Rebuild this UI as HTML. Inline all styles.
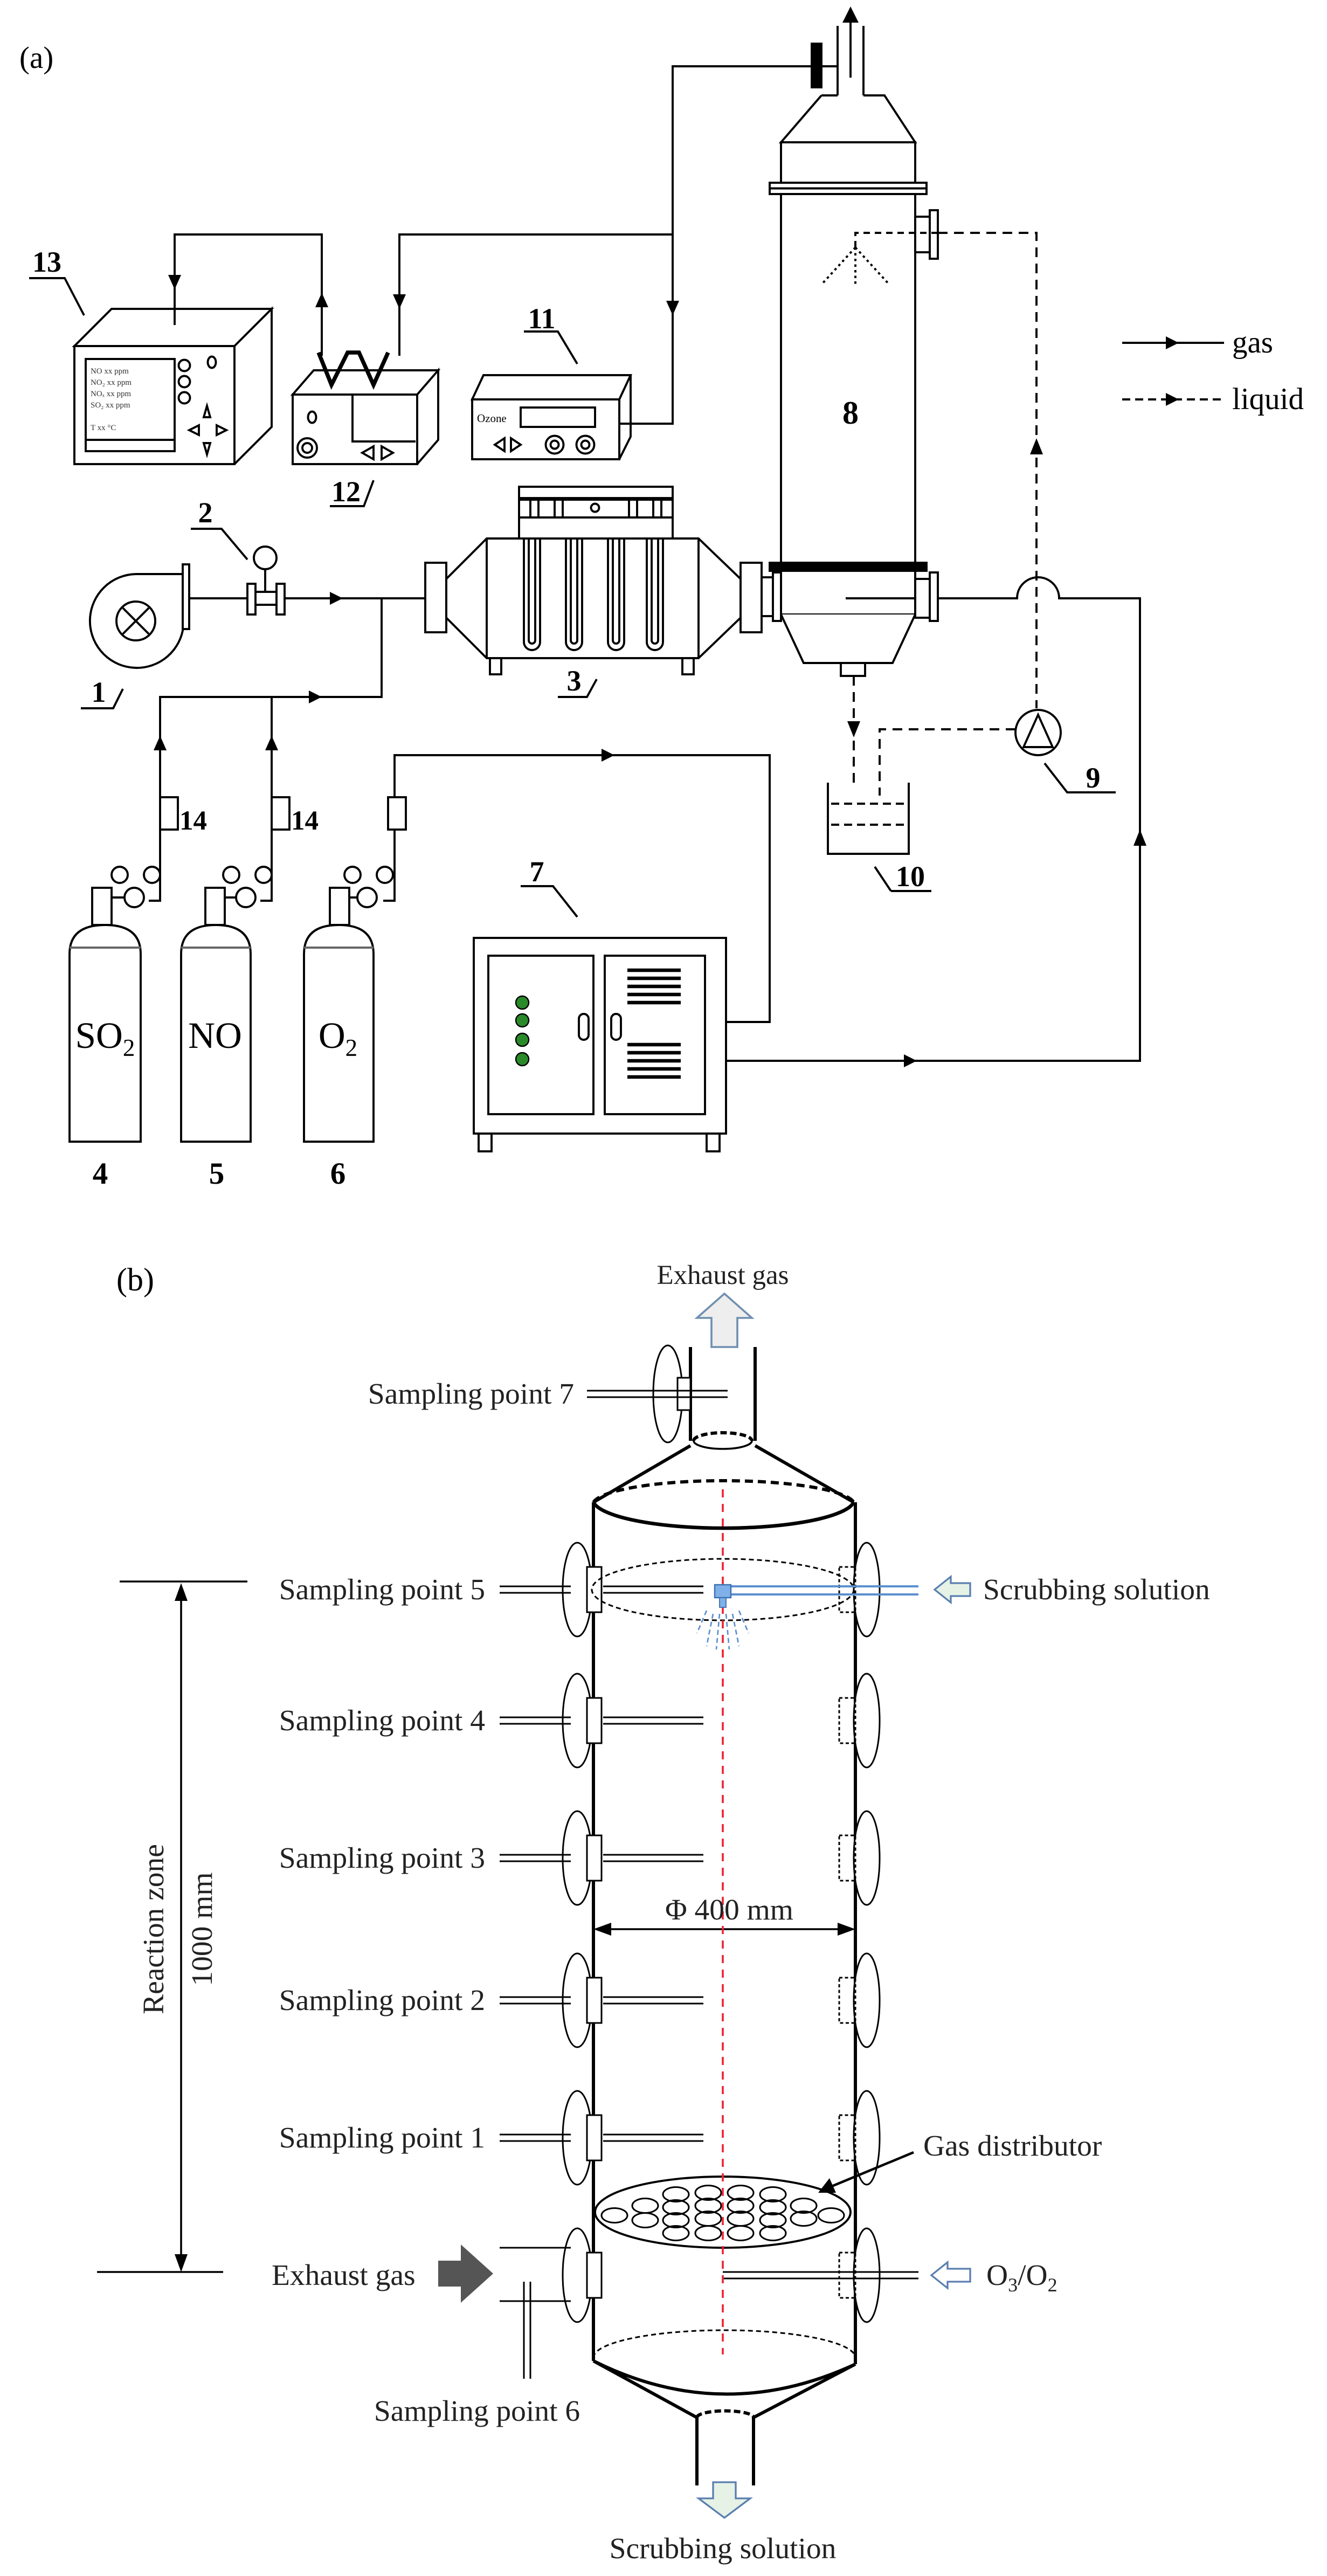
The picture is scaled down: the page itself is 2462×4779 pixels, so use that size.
<!DOCTYPE html>
<html><head><meta charset="utf-8"><style>
html,body{margin:0;padding:0;background:#fff;}
svg{display:block;}
text{font-family:"Liberation Serif",serif;}
.b{font-weight:bold;}
</style></head><body>
<svg width="2462" height="4779" viewBox="0 0 820.67 1593" xmlns="http://www.w3.org/2000/svg">
<g fill="none" stroke="#000" stroke-width="1.3" stroke-linejoin="miter">

<!-- ===== (a) ===== -->
<line x1="518" y1="16" x2="518" y2="59"/><line x1="534" y1="16" x2="534" y2="59"/>
<line x1="526" y1="8" x2="526" y2="48"/>
<rect x="502" y="27" width="6" height="27" fill="#000"/>
<line x1="508" y1="41" x2="518" y2="41"/>
<path d="M508,59 H518 M534,59 H547 L566,88 H483 L508,59" fill="#fff"/>
<rect x="483" y="88" width="83" height="25" fill="#fff"/>
<rect x="476" y="113" width="97" height="7" fill="#fff"/>
<line x1="476" y1="116.5" x2="573" y2="116.5"/>
<rect x="483" y="120" width="83" height="228" fill="#fff"/>
<rect x="476" y="348" width="97" height="5" fill="#000"/>
<rect x="483" y="353" width="83" height="27" fill="#fff"/>
<path d="M483,380 L497,410 H552 L566,380" fill="#fff"/>
<rect x="520" y="410" width="15" height="8" fill="#fff"/>
<line x1="523" y1="370" x2="568" y2="370"/>
<rect x="566" y="358" width="9" height="24" fill="#fff"/><rect x="575" y="354" width="5" height="30" fill="#fff"/>
<rect x="566" y="134" width="9" height="22" fill="#fff"/><rect x="575" y="130" width="5" height="30" fill="#fff"/>
<path d="M580,144 H529 V153" stroke-dasharray="4,3"/>
<path d="M529,153 L508,176 M529,153 L550,176 M529,153 V176" stroke-dasharray="1.5,2"/>
<path d="M580,144 H641 V438" stroke-dasharray="6,4"/>
<circle cx="642" cy="453" r="14" fill="#fff"/>
<path d="M642,442 L633,462 H651 Z"/>
<path d="M628,451 H544 V492" stroke-dasharray="6,4"/>
<path d="M528,418 V484" stroke-dasharray="6,4"/>
<path d="M512,484 V528 H562 V484"/>
<path d="M514,497 H560 M514,510 H560" stroke-dasharray="5,3"/>
<rect x="471" y="357" width="7" height="24" fill="#fff"/><rect x="478" y="354" width="5" height="30" fill="#fff"/>
<path d="M580,370 H629 A13,13 0 0 1 655,370 H705 V656 H449"/>
<rect x="263" y="348" width="13" height="43" fill="#fff"/>
<path d="M276,358 L301,333 H432 L458,358 V382 L432,407 H301 L276,382 Z" fill="#fff"/>
<line x1="301" y1="333" x2="301" y2="407"/><line x1="432" y1="333" x2="432" y2="407"/>
<rect x="458" y="348" width="13" height="43" fill="#fff"/>
<rect x="303" y="407" width="7" height="10"/><rect x="422" y="407" width="7" height="10"/>
<rect x="321" y="309" width="95" height="24" fill="#fff"/>
<rect x="321" y="301" width="95" height="7" fill="#fff"/>
<path d="M328,308 V320 M333,308 V320 M343,308 V320 M348,308 V320 M389,308 V320 M394,308 V320 M404,308 V320 M409,308 V320 M321,320 H416"/>
<circle cx="368" cy="314" r="2.5"/>
<path d="M324,333 V397 A5,5 0 0 0 334,397 V333 M327,333 V396 A2,2 0 0 0 331,396 V333"/>
<path d="M350,333 V397 A5,5 0 0 0 360,397 V333 M353,333 V396 A2,2 0 0 0 357,396 V333"/>
<path d="M376,333 V397 A5,5 0 0 0 386,397 V333 M379,333 V396 A2,2 0 0 0 383,396 V333"/>
<path d="M400,333 V397 A5,5 0 0 0 410,397 V333 M403,333 V396 A2,2 0 0 0 407,396 V333"/>
<path d="M113,355 H84 A29,29 0 1 0 113,390 Z" fill="#fff"/>
<rect x="113" y="349" width="4" height="40" fill="#fff"/>
<circle cx="84" cy="384" r="12"/>
<path d="M76,376 L92,392 M92,376 L76,392"/>
<path d="M117,370 H153 M176,370 H263"/>
<rect x="153" y="361" width="5" height="19" fill="#fff"/><rect x="171" y="361" width="5" height="19" fill="#fff"/>
<path d="M158,366 H171 M158,374 H171 M164,352 V366"/>
<circle cx="164" cy="345" r="7" fill="#fff"/>
<path d="M236,370 V431 H99 V493 M168,431 V493"/>
<path d="M244,493 V467 H476 V632 H449"/>
<rect x="99" y="493" width="11" height="20" fill="#fff"/>
<rect x="168" y="493" width="11" height="20" fill="#fff"/>
<rect x="240" y="493" width="11" height="20" fill="#fff"/>
<path d="M99,513 V557 H92 M168,513 V557 H161 M244,513 V557 H237"/>
<g fill="#fff">
<circle cx="74" cy="541" r="5"/><circle cx="94" cy="541" r="5"/><circle cx="83" cy="555" r="6"/>
<circle cx="143" cy="541" r="5"/><circle cx="163" cy="541" r="5"/><circle cx="152" cy="555" r="6"/>
<circle cx="218" cy="541" r="5"/><circle cx="238" cy="541" r="5"/><circle cx="227" cy="555" r="6"/>
<rect x="57" y="549" width="12" height="23"/><rect x="127" y="549" width="12" height="23"/><rect x="204" y="549" width="12" height="23"/>
<path d="M43,706 V590 Q43,572 65,572 Q87,572 87,590 V706 Z"/>
<path d="M112,706 V590 Q112,572 133.5,572 Q155,572 155,590 V706 Z"/>
<path d="M188,706 V590 Q188,572 209.5,572 Q231,572 231,590 V706 Z"/>
</g>
<path d="M69,555 H77 M139,555 H146 M216,555 H221"/>
<path d="M43,586 H87 M112,586 H155 M188,586 H231" stroke="#666"/>
<rect x="293" y="580" width="156" height="121" fill="#fff"/>
<rect x="302" y="591" width="65" height="98"/><rect x="374" y="591" width="62" height="98"/>
<rect x="296" y="701" width="8" height="11"/><rect x="437" y="701" width="8" height="11"/>
<rect x="358" y="627" width="6" height="16" rx="3"/><rect x="378" y="627" width="6" height="16" rx="3"/>
<g fill="#2a8a2a" stroke="#000" stroke-width="0.8"><circle cx="323" cy="620" r="4"/><circle cx="323" cy="631" r="4"/><circle cx="323" cy="643" r="4"/><circle cx="323" cy="655" r="4"/></g>
<g stroke-width="2.2"><path d="M388,600 H421 M388,605 H421 M388,610 H421 M388,615 H421 M388,620 H421 M388,646 H421 M388,651 H421 M388,656 H421 M388,661 H421 M388,666 H421"/></g>
<path d="M46,214 L69,191 H168 L145,214 Z M145,214 L168,191 V264 L145,287" fill="#fff"/>
<rect x="46" y="214" width="99" height="73" fill="#fff"/>
<rect x="53" y="222" width="55" height="57"/><line x1="53" y1="272" x2="108" y2="272"/>
<circle cx="114" cy="226" r="3.5"/><circle cx="114" cy="236" r="3.5"/><circle cx="114" cy="246" r="3.5"/>
<ellipse cx="131" cy="224" rx="2.5" ry="3.5"/>
<path d="M128,251 L126,258 H130 Z M128,281 L126,274 H130 Z M117,266 L123,263 V269 Z M140,266 L134,263 V269 Z"/>
<path d="M181,244 L194,229 H271 L258,244 Z M258,244 L271,229 V272 L258,287" fill="#fff"/>
<rect x="181" y="244" width="77" height="43" fill="#fff"/>
<path d="M218,244 V273 H257"/>
<ellipse cx="193" cy="258" rx="2.5" ry="3.5"/>
<circle cx="190" cy="277" r="6"/><circle cx="190" cy="277" r="3"/>
<path d="M224,280 L231,276 V284 Z M236,276 L243,280 L236,284 Z"/>
<path d="M197,218 L205,238 L215,218 H222 L231,238 L240,218" stroke-width="2.5"/>
<path d="M292,247 L299,232 H390 L383,247 Z M383,247 L390,232 V270 L383,284" fill="#fff"/>
<rect x="292" y="247" width="91" height="37" fill="#fff"/>
<rect x="322" y="252" width="46" height="12"/>
<circle cx="343" cy="275" r="5.5"/><circle cx="343" cy="275" r="2.5"/>
<circle cx="362" cy="275" r="5.5"/><circle cx="362" cy="275" r="2.5"/>
<path d="M306,275 L312,271 V279 Z M316,271 L322,275 L316,279 Z"/>
<path d="M383,262 H416 V41 H502 M416,145 H247 V220 M199,220 V145 H108 V201"/>
<path d="M694,212 H757"/>
<path d="M694,247 H757" stroke-dasharray="5,3"/>
<path d="M18,172 H40 L52,195 M118,327 H137 L153,346 M50,438 H70 L76,426 M345,431 H363 L369,420 M322,548 H342 L357,567 M324,205 H345 L357,225 M204,313 H225 L231,297 M551,551 H576 M541,536 L551,551 M646,472 L660,490 H690"/>
</g>
<g fill="#000">
<path d="M526,4 L521,14 H531 Z"/>
<path d="M641,271 L637,281 H645 Z"/>
<path d="M528,456 L524,446 H532 Z"/>
<path d="M705,513 L701,523 H709 Z"/>
<path d="M567,656 L559,652 V660 Z"/>
<path d="M380,467 L372,463 V471 Z"/>
<path d="M212,370 L204,366 V374 Z"/>
<path d="M199,431 L191,427 V435 Z"/>
<path d="M99,455 L95,464 H103 Z M168,455 L164,464 H172 Z"/>
<path d="M416,195 L412,186 H420 Z"/>
<path d="M247,191 L243,182 H251 Z"/>
<path d="M108,179 L104,170 H112 Z"/>
<path d="M199,181 L195,190 H203 Z"/>
<path d="M729,212 L721,208 V216 Z"/>
<path d="M729,247 L721,243 V251 Z"/>
</g>
<text x="12" y="42" font-size="19">(a)</text>
<text x="526" y="262" font-size="20" text-anchor="middle" class="b">8</text>
<text x="762" y="218" font-size="19">gas</text>
<text x="762" y="253" font-size="19">liquid</text>
<text x="29" y="168" font-size="18" text-anchor="middle" class="b">13</text>
<text x="335" y="203" font-size="18" text-anchor="middle" class="b">11</text>
<text x="214" y="310" font-size="18" text-anchor="middle" class="b">12</text>
<text x="127" y="323" font-size="18" text-anchor="middle" class="b">2</text>
<text x="61" y="434" font-size="18" text-anchor="middle" class="b">1</text>
<text x="355" y="427" font-size="18" text-anchor="middle" class="b">3</text>
<text x="332" y="545" font-size="18" text-anchor="middle" class="b">7</text>
<text x="563" y="548" font-size="18" text-anchor="middle" class="b">10</text>
<text x="676" y="487" font-size="18" text-anchor="middle" class="b">9</text>
<text x="111" y="513" font-size="17" class="b">14</text>
<text x="180" y="513" font-size="17" class="b">14</text>
<text x="62" y="732" font-size="19" text-anchor="middle" class="b">4</text>
<text x="134" y="732" font-size="19" text-anchor="middle" class="b">5</text>
<text x="209" y="732" font-size="19" text-anchor="middle" class="b">6</text>
<text x="65" y="648" font-size="23" text-anchor="middle">SO<tspan font-size="15" dy="5">2</tspan></text>
<text x="133" y="648" font-size="23" text-anchor="middle">NO</text>
<text x="209" y="648" font-size="23" text-anchor="middle">O<tspan font-size="15" dy="5">2</tspan></text>
<text x="295" y="261" font-size="7" font-family="Liberation Sans, sans-serif">Ozone</text>
<g font-size="5" font-family="Liberation Sans, sans-serif" fill="#333">
<text x="56" y="231">NO    xx ppm</text><text x="56" y="238">NO₂   xx ppm</text><text x="56" y="245">NOₓ   xx ppm</text><text x="56" y="252">SO₂   xx ppm</text><text x="56" y="266">T       xx °C</text>
</g>

<!-- ===== (b) ===== -->
<text x="72" y="798" font-size="20">(b)</text>
<text x="447" y="794" font-size="17" text-anchor="middle" fill="#222">Exhaust gas</text>
<path d="M440,833 V815 H431 L448,800 L465,815 H456 V833 Z" fill="#eee" stroke="#6f8fb0" stroke-width="1.2"/>
<g fill="none" stroke="#000">
<path d="M427,833 V891 M467,833 V891" stroke-width="2"/>
<ellipse cx="413" cy="862" rx="9" ry="30" fill="#fff" stroke-width="1"/>
<rect x="419" y="852" width="8" height="20" fill="#fff" stroke-width="1"/>
<path d="M363,860 H450 M363,864 H450" stroke-width="1"/>
<path d="M429,891 A18,5 0 0 1 465,891" stroke-dasharray="4,2" stroke-width="2"/>
<path d="M429,891 A18,5 0 0 0 465,891" stroke-width="1.2"/>
<path d="M427,894 L367,929 M467,894 L528,929" stroke-width="2"/>
<path d="M367,929 A81,15 0 0 1 528,929" stroke-dasharray="5,3" stroke-width="2"/>
<path d="M367,929 A81,18 0 0 0 528,929" stroke-width="2.2"/>
<path d="M367,929 V1460 M529,929 V1462" stroke-width="2"/>
<g stroke-width="1">
<ellipse cx="357" cy="983" rx="9" ry="29" fill="#fff"/><rect x="363" y="969" width="9" height="28" fill="#fff"/>
<ellipse cx="357" cy="1064" rx="9" ry="29" fill="#fff"/><rect x="363" y="1050" width="9" height="28" fill="#fff"/>
<ellipse cx="357" cy="1149" rx="9" ry="29" fill="#fff"/><rect x="363" y="1135" width="9" height="28" fill="#fff"/>
<ellipse cx="357" cy="1237" rx="9" ry="29" fill="#fff"/><rect x="363" y="1223" width="9" height="28" fill="#fff"/>
<ellipse cx="357" cy="1322" rx="9" ry="29" fill="#fff"/><rect x="363" y="1308" width="9" height="28" fill="#fff"/>
<ellipse cx="357" cy="1407" rx="9" ry="29" fill="#fff"/><rect x="363" y="1393" width="9" height="28" fill="#fff"/>
<path d="M309,981 H353 M309,985 H353 M373,981 H435 M373,985 H435"/>
<path d="M309,1062 H353 M309,1066 H353 M373,1062 H435 M373,1066 H435"/>
<path d="M309,1147 H353 M309,1151 H353 M373,1147 H435 M373,1151 H435"/>
<path d="M309,1235 H353 M309,1239 H353 M373,1235 H435 M373,1239 H435"/>
<path d="M309,1320 H353 M309,1324 H353 M373,1320 H435 M373,1324 H435"/>
<path d="M309,1390 H353 M309,1423 H353 M324,1411 V1471 M328,1411 V1471"/>
<ellipse cx="536" cy="983" rx="8" ry="29" fill="#fff"/><rect x="519" y="969" width="10" height="28" stroke-dasharray="2,1.5"/>
<ellipse cx="536" cy="1064" rx="8" ry="29" fill="#fff"/><rect x="519" y="1050" width="10" height="28" stroke-dasharray="2,1.5"/>
<ellipse cx="536" cy="1149" rx="8" ry="29" fill="#fff"/><rect x="519" y="1135" width="10" height="28" stroke-dasharray="2,1.5"/>
<ellipse cx="536" cy="1237" rx="8" ry="29" fill="#fff"/><rect x="519" y="1223" width="10" height="28" stroke-dasharray="2,1.5"/>
<ellipse cx="536" cy="1322" rx="8" ry="29" fill="#fff"/><rect x="519" y="1308" width="10" height="28" stroke-dasharray="2,1.5"/>
<ellipse cx="536" cy="1407" rx="8" ry="29" fill="#fff"/><rect x="519" y="1393" width="10" height="28" stroke-dasharray="2,1.5"/>
<path d="M447,1405 H568 M447,1409 H568"/>
<ellipse cx="447" cy="983" rx="81" ry="19" stroke-dasharray="3,2"/>
<ellipse cx="447" cy="1368" rx="79" ry="22" fill="#fff" stroke-width="1.3"/>
</g>
</g>
<g fill="none" stroke="#000" stroke-width="1.5">
<path d="M367,1458 A81,17 0 0 1 529,1458" stroke-dasharray="3,2" stroke-width="1"/>
<path d="M367,1460 Q447,1500 529,1462 M367,1460 L431,1495 M529,1462 L466,1495" stroke-width="2"/>
<path d="M431,1495 A17,4 0 0 1 466,1495" stroke-dasharray="4,2" stroke-width="2"/>
<path d="M431,1495 V1537 M466,1495 V1537" stroke-width="2"/>
<g stroke-width="1">
<ellipse cx="418" cy="1357" rx="8" ry="4.5"/><ellipse cx="438" cy="1356" rx="8" ry="4.5"/><ellipse cx="458" cy="1356" rx="8" ry="4.5"/><ellipse cx="478" cy="1357" rx="8" ry="4.5"/>
<ellipse cx="399" cy="1364" rx="8" ry="4.5"/><ellipse cx="418" cy="1365" rx="8" ry="4.5"/><ellipse cx="438" cy="1364" rx="8" ry="4.5"/><ellipse cx="458" cy="1364" rx="8" ry="4.5"/><ellipse cx="478" cy="1365" rx="8" ry="4.5"/><ellipse cx="497" cy="1364" rx="8" ry="4.5"/>
<ellipse cx="380" cy="1370" rx="8" ry="4.5"/><ellipse cx="399" cy="1373" rx="8" ry="4.5"/><ellipse cx="418" cy="1373" rx="8" ry="4.5"/><ellipse cx="438" cy="1372" rx="8" ry="4.5"/><ellipse cx="458" cy="1372" rx="8" ry="4.5"/><ellipse cx="478" cy="1373" rx="8" ry="4.5"/><ellipse cx="497" cy="1372" rx="8" ry="4.5"/><ellipse cx="514" cy="1370" rx="8" ry="4.5"/>
<ellipse cx="418" cy="1381" rx="8" ry="4.5"/><ellipse cx="438" cy="1381" rx="8" ry="4.5"/><ellipse cx="458" cy="1381" rx="8" ry="4.5"/><ellipse cx="478" cy="1381" rx="8" ry="4.5"/>
</g>
<path d="M74,978 H153 M60,1405 H138 M112,988 V1398" stroke-width="1.2"/>
<path d="M375,1193 H521" stroke-width="1.2"/>
<path d="M565,1331 L512,1353" stroke-width="1.5"/>
</g>
<g fill="#000">
<path d="M112,979 L108,990 H116 Z M112,1405 L108,1394 H116 Z"/>
<path d="M367,1193 L378,1189 V1197 Z M529,1193 L518,1189 V1197 Z"/>
<path d="M506,1356 L513,1347 L517,1356 Z"/>
</g>
<path d="M447,921 V1456" stroke="#e23" stroke-width="1.2" stroke-dasharray="5,4" fill="none"/>
<path d="M447,981 H568 M447,986 H568" stroke="#5b8fd0" stroke-width="1.3"/>
<rect x="442" y="980" width="10" height="8" fill="#7fb0e8" stroke="#3a6fb0" stroke-width="0.8"/>
<rect x="445" y="988" width="4" height="6" fill="#7fb0e8" stroke="#3a6fb0" stroke-width="0.6"/>
<path d="M441,998 L437,1018 M445,998 L443,1020 M449,998 L451,1020 M453,998 L457,1018 M437,996 L431,1010 M457,996 L463,1010" stroke="#5b8fd0" stroke-width="0.9" stroke-dasharray="3,2"/>
<path d="M578,983 L588,975 V979 H600 V987 H588 V991 Z" fill="#e6f2e6" stroke="#5a7fb0" stroke-width="1.1"/>
<path d="M576,1407 L586,1399 V1403 H600 V1411 H586 V1415 Z" fill="#fff" stroke="#5a7fb0" stroke-width="1.1"/>
<path d="M441,1535 V1545 H432 L448,1557 L464,1545 H455 V1535 Z" fill="#e6f2e6" stroke="#5a7fb0" stroke-width="1.1"/>
<path d="M271,1398 H285 V1388 L305,1406 L285,1424 V1414 H271 Z" fill="#555"/>
<g font-size="18.5" fill="#222">
<text x="355" y="868" text-anchor="end">Sampling point 7</text>
<text x="300" y="989" text-anchor="end">Sampling point 5</text>
<text x="300" y="1070" text-anchor="end">Sampling point 4</text>
<text x="300" y="1155" text-anchor="end">Sampling point 3</text>
<text x="300" y="1243" text-anchor="end">Sampling point 2</text>
<text x="300" y="1328" text-anchor="end">Sampling point 1</text>
<text x="168" y="1413">Exhaust gas</text>
<text x="295" y="1497" text-anchor="middle">Sampling point 6</text>
<text x="608" y="989">Scrubbing solution</text>
<text x="571" y="1333">Gas distributor</text>
<text x="610" y="1413">O<tspan font-size="12" dy="4">3</tspan><tspan dy="-4">/O</tspan><tspan font-size="12" dy="4">2</tspan></text>
<text x="451" y="1187" text-anchor="middle">Φ 400 mm</text>
<text x="447" y="1582" text-anchor="middle">Scrubbing solution</text>
<text transform="translate(101,1193) rotate(-90)" text-anchor="middle">Reaction zone</text>
<text transform="translate(131,1193) rotate(-90)" text-anchor="middle">1000 mm</text>
</g>
</svg>
</body></html>
